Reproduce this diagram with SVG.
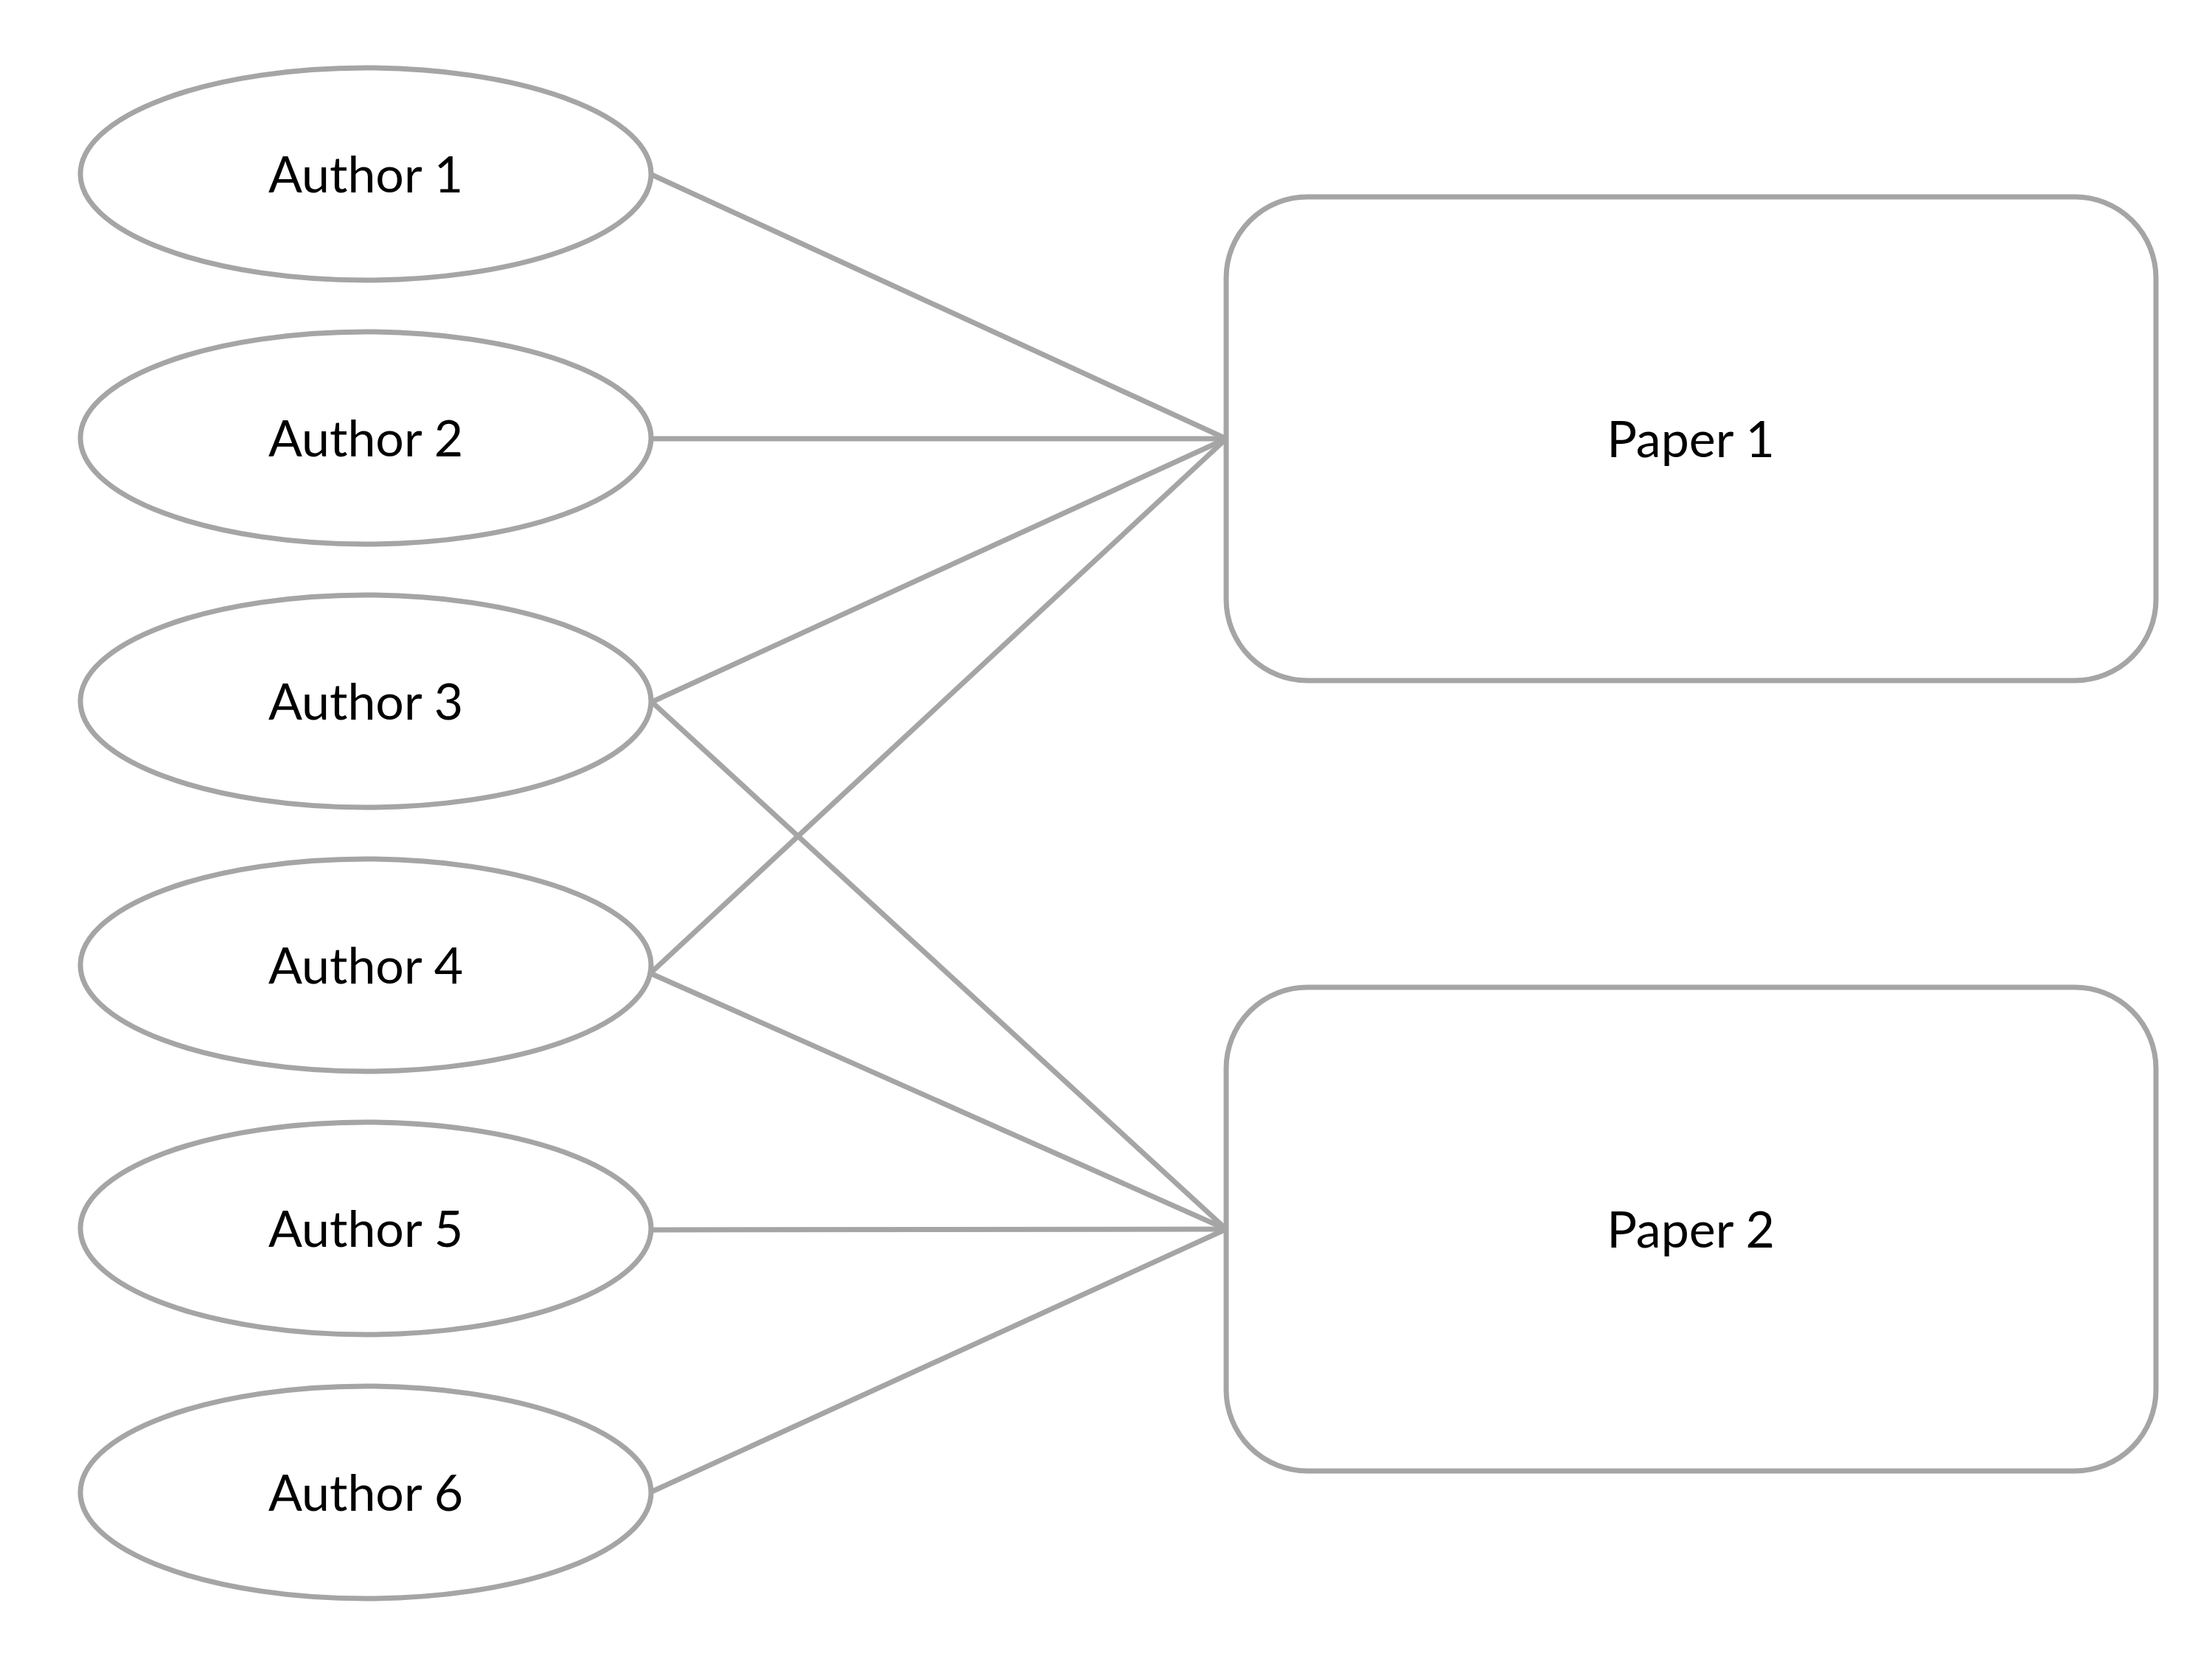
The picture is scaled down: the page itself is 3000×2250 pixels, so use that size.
<svg xmlns="http://www.w3.org/2000/svg" width="3000" height="2250" viewBox="0 0 3000 2250">
<style>
.node{fill:#FFFFFF;stroke:#A5A5A5;stroke-width:7}
.edge{stroke:#A5A5A5;stroke-width:7;fill:none}
.lbl{font-family:"Lato","Liberation Sans",sans-serif;font-size:68px;fill:#000000;text-anchor:middle}
</style>
<rect width="3000" height="2250" fill="#FFFFFF"/>
<g id="connectors">
<line class="edge" x1="884" y1="237" x2="1663" y2="595"/>
<line class="edge" x1="884" y1="595" x2="1663" y2="595"/>
<line class="edge" x1="884" y1="952" x2="1663" y2="595"/>
<line class="edge" x1="882" y1="1320" x2="1663" y2="595"/>
<line class="edge" x1="884" y1="952" x2="1663" y2="1667"/>
<line class="edge" x1="882" y1="1320" x2="1663" y2="1667"/>
<line class="edge" x1="884" y1="1668" x2="1663" y2="1667"/>
<line class="edge" x1="884" y1="2023" x2="1663" y2="1667"/>
</g>
<g id="author1"><ellipse class="node" cx="496" cy="236" rx="387" ry="144"/><text class="lbl" x="496" y="261">Author 1</text></g>
<g id="author2"><ellipse class="node" cx="496" cy="594" rx="387" ry="144"/><text class="lbl" x="496" y="619">Author 2</text></g>
<g id="author3"><ellipse class="node" cx="496" cy="951" rx="387" ry="144"/><text class="lbl" x="496" y="976">Author 3</text></g>
<g id="author4"><ellipse class="node" cx="496" cy="1309" rx="387" ry="144"/><text class="lbl" x="496" y="1334">Author 4</text></g>
<g id="author5"><ellipse class="node" cx="496" cy="1666" rx="387" ry="144"/><text class="lbl" x="496" y="1691">Author 5</text></g>
<g id="author6"><ellipse class="node" cx="496" cy="2024" rx="387" ry="144"/><text class="lbl" x="496" y="2049">Author 6</text></g>
<g id="paper1"><rect class="node" x="1663" y="267" width="1261" height="656" rx="110" ry="110"/><text class="lbl" x="2293" y="620">Paper 1</text></g>
<g id="paper2"><rect class="node" x="1663" y="1339" width="1261" height="656" rx="110" ry="110"/><text class="lbl" x="2293" y="1692">Paper 2</text></g>
</svg>
